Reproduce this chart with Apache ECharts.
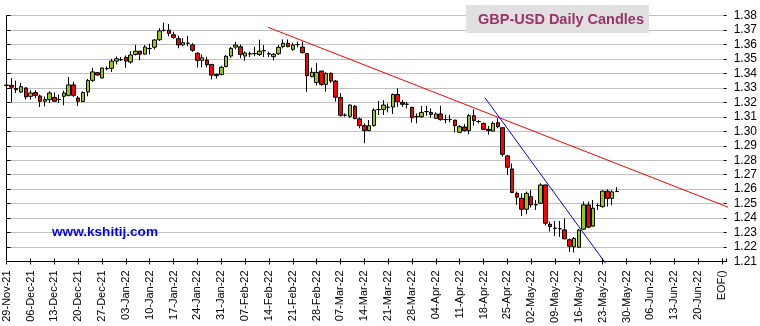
<!DOCTYPE html>
<html><head><meta charset="utf-8">
<script src="https://cdn.jsdelivr.net/npm/echarts@6/dist/echarts.min.js"></script>
<style>html,body{margin:0;padding:0;background:#fff}#c{width:760px;height:326px}</style>
</head><body><div id="c"></div>
<script>
// Weekly tick labels (Mondays), last one is the end-of-file marker
const weekLabels = ['29-Nov-21','06-Dec-21','13-Dec-21','20-Dec-21','27-Dec-21','03-Jan-22','10-Jan-22','17-Jan-22','24-Jan-22','31-Jan-22','07-Feb-22','14-Feb-22','21-Feb-22','28-Feb-22','07-Mar-22','14-Mar-22','21-Mar-22','28-Mar-22','04-Apr-22','11-Apr-22','18-Apr-22','25-Apr-22','02-May-22','09-May-22','16-May-22','23-May-22','30-May-22','06-Jun-22','13-Jun-22','20-Jun-22','EOF()'];
const daysPerWeek = 5;
const slotCount = 152; // trading-day slots on the axis (29-Nov-21 .. past 27-Jun-22)

// Daily candles (trading days from 29-Nov-21)
const opens = [1.3320,1.3318,1.3296,1.3272,1.3300,1.3242,1.3268,1.3245,1.3208,1.3219,1.3235,1.3220,1.3242,1.3249,1.3321,1.3231,1.3206,1.3272,1.3353,1.3406,1.3369,1.3434,1.3436,1.3486,1.3496,1.3511,1.3479,1.3532,1.3555,1.3534,1.3573,1.3582,1.3634,1.3699,1.3700,1.3668,1.3641,1.3598,1.3610,1.3598,1.3540,1.3491,1.3493,1.3463,1.3385,1.3394,1.3448,1.3521,1.3583,1.3585,1.3521,1.3536,1.3538,1.3532,1.3558,1.3536,1.3517,1.3537,1.3586,1.3609,1.3567,1.3601,1.3583,1.3539,1.3378,1.3338,1.3417,1.3325,1.3401,1.3348,1.3234,1.3112,1.3104,1.3173,1.3086,1.3039,1.3005,1.3041,1.3151,1.3152,1.3167,1.3168,1.3255,1.3200,1.3188,1.3166,1.3102,1.3101,1.3137,1.3131,1.3090,1.3120,1.3082,1.3082,1.3078,1.2993,1.3030,1.3005,1.3108,1.3068,1.3055,1.3014,1.3002,1.3060,1.3025,1.2830,1.2740,1.2571,1.2537,1.2461,1.2548,1.2492,1.2502,1.2629,1.2357,1.2330,1.2326,1.2318,1.2250,1.2201,1.2198,1.2323,1.2491,1.2344,1.2487,1.2479,1.2586,1.2536,1.2584];
const closes = [1.3316,1.3305,1.3288,1.3309,1.3238,1.3265,1.3249,1.3208,1.3219,1.3265,1.3208,1.3219,1.3265,1.3321,1.3249,1.3208,1.3268,1.3351,1.3411,1.3390,1.3438,1.3433,1.3486,1.3502,1.3495,1.3486,1.3528,1.3555,1.3534,1.3583,1.3572,1.3632,1.3695,1.3698,1.3677,1.3650,1.3598,1.3614,1.3609,1.3561,1.3491,1.3509,1.3461,1.3389,1.3394,1.3443,1.3519,1.3574,1.3597,1.3532,1.3542,1.3535,1.3537,1.3555,1.3557,1.3535,1.3533,1.3581,1.3609,1.3586,1.3597,1.3600,1.3544,1.3385,1.3408,1.3408,1.3325,1.3401,1.3348,1.3236,1.3111,1.3111,1.3182,1.3088,1.3039,1.3005,1.3039,1.3147,1.3150,1.3182,1.3166,1.3255,1.3205,1.3187,1.3187,1.3094,1.3101,1.3131,1.3136,1.3117,1.3120,1.3081,1.3081,1.3081,1.3039,1.3032,1.3005,1.3108,1.3074,1.3067,1.3014,1.3005,1.3055,1.3032,1.2841,1.2751,1.2576,1.2544,1.2461,1.2571,1.2491,1.2491,1.2629,1.2364,1.2341,1.2329,1.2325,1.2256,1.2205,1.2259,1.2317,1.2491,1.2337,1.2468,1.2486,1.2586,1.2536,1.2581,1.2583];
const lows = [1.3288,1.3200,1.3265,1.3265,1.3219,1.3219,1.3229,1.3169,1.3173,1.3196,1.3203,1.3196,1.3180,1.3242,1.3238,1.3176,1.3201,1.3242,1.3342,1.3385,1.3365,1.3422,1.3411,1.3463,1.3486,1.3440,1.3468,1.3525,1.3491,1.3532,1.3532,1.3567,1.3625,1.3691,1.3657,1.3641,1.3575,1.3589,1.3589,1.3550,1.3442,1.3442,1.3442,1.3359,1.3366,1.3387,1.3442,1.3509,1.3567,1.3505,1.3488,1.3514,1.3519,1.3521,1.3514,1.3514,1.3491,1.3528,1.3574,1.3581,1.3558,1.3581,1.3540,1.3274,1.3374,1.3318,1.3314,1.3275,1.3334,1.3206,1.3101,1.3101,1.3092,1.3083,1.3021,1.2917,1.3000,1.3032,1.3113,1.3113,1.3131,1.3120,1.3170,1.3170,1.3159,1.3061,1.3055,1.3094,1.3108,1.3094,1.3085,1.3074,1.3055,1.3062,1.2993,1.2989,1.2998,1.2979,1.3039,1.3055,1.3009,1.2977,1.2998,1.3021,1.2825,1.2698,1.2576,1.2491,1.2415,1.2426,1.2472,1.2456,1.2498,1.2348,1.2306,1.2276,1.2270,1.2253,1.2166,1.2162,1.2196,1.2318,1.2330,1.2340,1.2456,1.2472,1.2479,1.2488,1.2583];
const highs = [1.3362,1.3368,1.3351,1.3335,1.3305,1.3284,1.3284,1.3254,1.3242,1.3277,1.3270,1.3254,1.3281,1.3376,1.3344,1.3245,1.3277,1.3362,1.3438,1.3411,1.3442,1.3449,1.3502,1.3518,1.3514,1.3525,1.3555,1.3599,1.3555,1.3597,1.3606,1.3638,1.3714,1.3752,1.3743,1.3689,1.3661,1.3645,1.3661,1.3611,1.3547,1.3532,1.3516,1.3463,1.3400,1.3454,1.3528,1.3583,1.3619,1.3601,1.3553,1.3551,1.3585,1.3634,1.3597,1.3551,1.3542,1.3597,1.3636,1.3636,1.3613,1.3620,1.3620,1.3539,1.3440,1.3474,1.3417,1.3408,1.3408,1.3355,1.3264,1.3124,1.3186,1.3182,1.3097,1.3055,1.3078,1.3159,1.3210,1.3216,1.3193,1.3262,1.3298,1.3216,1.3205,1.3170,1.3124,1.3175,1.3177,1.3159,1.3131,1.3177,1.3115,1.3115,1.3078,1.3044,1.3050,1.3120,1.3152,1.3078,1.3060,1.3037,1.3067,1.3090,1.3025,1.2837,1.2777,1.2583,1.2571,1.2583,1.2594,1.2525,1.2640,1.2629,1.2375,1.2380,1.2380,1.2397,1.2258,1.2268,1.2325,1.2514,1.2514,1.2525,1.2500,1.2593,1.2598,1.2593,1.2613];

// Trend lines: [trading-day slot, price]
const redTrend = [[54.8, 1.3720], [152.3, 1.2462]];
const blueTrend = [[100.3, 1.3233], [125.6, 1.2087]];

const yMin = 1.21, yMax = 1.38, yStep = 0.01;

const slots = [];
for (let i = 0; i < slotCount; i++) slots.push(String(i));
const candles = opens.map((o, i) => [o, closes[i], lows[i], highs[i]]);

const FONT = '"Liberation Sans", Arial, sans-serif';
const chart = echarts.init(document.getElementById('c'), null, {renderer: 'canvas'});
chart.setOption({
  animation: false,
  backgroundColor: '#fff',
  title: [
    {text: 'GBP-USD Daily Candles', left: 466, top: 5, backgroundColor: '#e0e0e0', padding: [7, 5, 6, 12],
     textStyle: {color: '#993366', fontWeight: 'bold', fontSize: 14.5, fontFamily: FONT}},
    {text: 'www.kshitij.com', left: 52, top: 225, padding: 0,
     textStyle: {color: '#0000ff', fontWeight: 'bold', fontSize: 13.6, fontFamily: FONT}}
  ],
  grid: {left: 6.7, right: 33, top: 15.7, bottom: 64.6, containLabel: false},
  xAxis: [
    {type: 'category', data: slots, boundaryGap: false, position: 'bottom',
     axisLine: {lineStyle: {color: '#000', width: 1}},
     axisTick: {show: true, interval: daysPerWeek - 1, length: 3, lineStyle: {color: '#000'}},
     axisLabel: {interval: daysPerWeek - 1, rotate: 90, margin: 9, color: '#000', fontSize: 11, fontFamily: FONT,
       formatter: (v, idx) => weekLabels[Math.round(idx / daysPerWeek)] || ''},
     splitLine: {show: false}},
    {type: 'value', min: 0, max: slotCount - 1, interval: daysPerWeek, position: 'bottom',
     axisLine: {show: false}, axisLabel: {show: false}, splitLine: {show: false},
     axisTick: {show: true, inside: true, length: 3, lineStyle: {color: '#000'}}}
  ],
  yAxis: [
    {type: 'value', position: 'right', min: yMin, max: yMax, interval: yStep, scale: true,
     axisLine: {show: true, lineStyle: {color: '#000', width: 1}},
     axisTick: {show: true, length: 4, lineStyle: {color: '#000'}},
     axisLabel: {margin: 7, color: '#000', fontSize: 12, fontFamily: FONT, formatter: v => v.toFixed(2)},
     splitLine: {show: true, lineStyle: {color: '#c0c0c0', width: 1}}},
    {type: 'value', position: 'right', min: yMin, max: yMax, interval: yStep, scale: true,
     axisLine: {show: false}, axisLabel: {show: false}, splitLine: {show: false},
     axisTick: {show: true, inside: true, length: 3, lineStyle: {color: '#000'}}}
  ],
  series: [
    {type: 'candlestick', xAxisIndex: 0, yAxisIndex: 0, data: candles, barWidth: 4,
     itemStyle: {color: '#99cc00', color0: '#ff0000', borderColor: '#000', borderColor0: '#000', borderColorDoji: '#000', borderWidth: 1}},
    {type: 'line', xAxisIndex: 1, yAxisIndex: 0, data: redTrend, symbol: 'none', clip: false, silent: true,
     lineStyle: {color: '#ff0000', width: 1}},
    {type: 'line', xAxisIndex: 1, yAxisIndex: 0, data: blueTrend, symbol: 'none', clip: false, silent: true,
     lineStyle: {color: '#0000ff', width: 1}}
  ]
});
</script></body></html>
